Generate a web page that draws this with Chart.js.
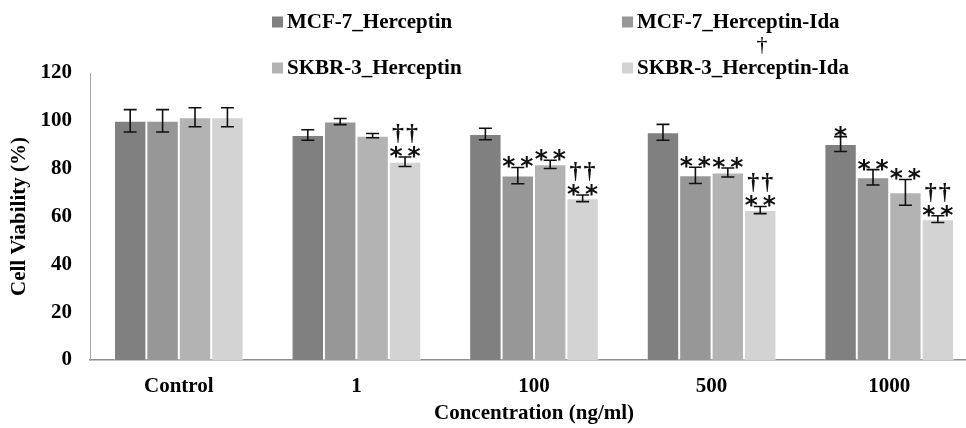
<!DOCTYPE html>
<html>
<head>
<meta charset="utf-8">
<script src="https://cdn.jsdelivr.net/npm/chart.js@4.4.1/dist/chart.umd.min.js"></script>
<style>
  html, body { margin: 0; padding: 0; overflow: hidden; background: #fff; }
  #wrap { width: 980px; height: 428px; }
</style>
</head>
<body>
<div id="wrap"><canvas id="chart"></canvas></div>
<script>
// values
const categories = ['Control', '1', '100', '500', '1000'];
const seriesNames = ['MCF-7_Herceptin', 'MCF-7_Herceptin-Ida', 'SKBR-3_Herceptin', 'SKBR-3_Herceptin-Ida'];
const seriesColors = ['#808080', '#979797', '#b3b3b3', '#d3d3d3'];

const mcfHerceptin = [100, 94.1, 94.5, 95.2, 90.3];
const mcfHerceptinIda = [100, 99.7, 77.1, 77.2, 76.4];
const skbrHerceptin = [101.5, 93.8, 81.8, 78.4, 70.1];
const skbrHerceptinIda = [101.5, 82.9, 67.6, 62.7, 58.9];

const mcfHerceptinErr = [4.7, 2.2, 2.4, 3.3, 3.1];
const mcfHerceptinIdaErr = [4.7, 1.3, 3.4, 3.4, 3.2];
const skbrHerceptinErr = [4.0, 0.9, 1.7, 1.9, 5.4];
const skbrHerceptinIdaErr = [4.0, 2.0, 1.4, 1.5, 1.4];

// significance marks drawn over each bar
const mcfHerceptinStar = ['', '', '', '', '*'];
const mcfHerceptinIdaStar = ['', '', '**', '**', '**'];
const skbrHerceptinStar = ['', '', '**', '**', '**'];
const skbrHerceptinIdaStar = ['', '**', '**', '**', '**'];
const skbrHerceptinIdaDagger = ['', '††', '††', '††', '††'];
const legendStrayMark = '†';

const yTicks = [0, 20, 40, 60, 80, 100, 120];

const values = [mcfHerceptin, mcfHerceptinIda, skbrHerceptin, skbrHerceptinIda];
const errors = [mcfHerceptinErr, mcfHerceptinIdaErr, skbrHerceptinErr, skbrHerceptinIdaErr];
const stars = [mcfHerceptinStar, mcfHerceptinIdaStar, skbrHerceptinStar, skbrHerceptinIdaStar];
const daggers = [[], [], [], skbrHerceptinIdaDagger];

const serif = '"Liberation Serif", "Times New Roman", serif';

let datasets = [];
seriesNames.forEach((name, i) => {
    datasets.push({
        label: name,
        data: values[i],
        backgroundColor: seriesColors[i],
        borderColor: 'rgba(255,255,255,0.45)',
        borderWidth: 1,
        borderSkipped: 'bottom',
        categoryPercentage: 0.73,
        barPercentage: 1.0,
    });
});

// draws each character centred on x, glyph bottoms sitting on yBottom; returns glyph top
function drawSpaced(ctx, text, x, yBottom, gap) {
    let chars = text.split('');
    let start = x - gap * (chars.length - 1) / 2;
    let top = yBottom;
    chars.forEach((ch, k) => {
        let m = ctx.measureText(ch);
        let base = yBottom - m.actualBoundingBoxDescent;
        ctx.fillText(ch, start + k * gap, base);
        top = Math.min(top, base - m.actualBoundingBoxAscent);
    });
    return top;
}

const errorBars = {
    id: 'errorBars',
    afterDatasetsDraw(chart) {
        let ctx = chart.ctx;
        let y = chart.scales.y;
        ctx.save();
        chart.data.datasets.forEach((ds, i) => {
            let meta = chart.getDatasetMeta(i);
            meta.data.forEach((bar, j) => {
                let v = ds.data[j];
                let e = errors[i][j];
                let top = y.getPixelForValue(v + e);
                let bot = y.getPixelForValue(v - e);
                ctx.strokeStyle = '#111';
                ctx.lineWidth = 1.6;
                ctx.beginPath();
                ctx.moveTo(bar.x, top); ctx.lineTo(bar.x, bot);
                ctx.moveTo(bar.x - 6.5, top); ctx.lineTo(bar.x + 6.5, top);
                ctx.moveTo(bar.x - 6.5, bot); ctx.lineTo(bar.x + 6.5, bot);
                ctx.stroke();

                ctx.fillStyle = '#111';
                ctx.textAlign = 'center';
                ctx.textBaseline = 'alphabetic';
                let markTop = top - 1;
                let starText = stars[i][j];
                if (starText) {
                    ctx.font = 'bold 25px "DejaVu Sans", sans-serif';
                    markTop = drawSpaced(ctx, starText, bar.x, top + 1, 18);
                }
                let dag = daggers[i][j];
                if (dag) {
                    ctx.font = 'bold 24px ' + serif;
                    drawSpaced(ctx, dag, bar.x, markTop - 3, 14);
                }
            });
        });
        ctx.restore();
    }
};

const gridLegend = {
    id: 'gridLegend',
    afterDraw(chart) {
        let ctx = chart.ctx;
        let cols = [272, 622];
        let rows = [22, 68];
        ctx.save();
        ctx.font = 'bold 21px ' + serif;
        ctx.textBaseline = 'middle';
        ctx.textAlign = 'left';
        chart.data.datasets.forEach((ds, i) => {
            let cx = cols[i % 2];
            let cy = rows[Math.floor(i / 2)];
            ctx.fillStyle = ds.backgroundColor;
            ctx.fillRect(cx, cy - 5.5, 11, 11);
            ctx.fillStyle = '#000';
            ctx.fillText(ds.label, cx + 15, cy + 1);
        });
        ctx.font = '22px ' + serif;
        ctx.textAlign = 'center';
        ctx.fillText(legendStrayMark, 762, 45);
        ctx.restore();
    }
};

new Chart(document.getElementById('chart'), {
    type: 'bar',
    data: {
        labels: categories,
        datasets
    },
    options: {
        responsive: true,
        maintainAspectRatio: false,
        animation: false,
        layout: { padding: { top: 73, left: 4, right: 2, bottom: 0 } },
        plugins: {
            legend: { display: false },
            tooltip: { enabled: false }
        },
        scales: {
            x: {
                afterFit(axis) { axis.height = 68; },
                grid: { display: false, drawTicks: false },
                border: { color: '#8c8c8c', width: 1.5 },
                ticks: { color: '#000', font: { family: serif, size: 21, weight: 'bold' }, padding: 14 },
                title: {
                    display: true,
                    text: 'Concentration (ng/ml)',
                    color: '#000',
                    font: { family: serif, size: 21, weight: 'bold' },
                    padding: { top: 0, bottom: 2 }
                }
            },
            y: {
                min: 0,
                max: 120,
                afterFit(axis) { axis.width = 86; },
                afterBuildTicks(axis) {
                    axis.ticks = yTicks.map(v => ({ value: v }));
                },
                grid: { display: false, drawTicks: false },
                border: { color: '#a6a6a6', width: 1 },
                ticks: { color: '#000', font: { family: serif, size: 21, weight: 'bold' }, padding: 18 },
                title: {
                    display: true,
                    text: 'Cell Viability (%)',
                    color: '#000',
                    font: { family: serif, size: 21, weight: 'bold' },
                    padding: { top: 3, bottom: 0 }
                }
            }
        }
    },
    plugins: [errorBars, gridLegend]
});
</script>
</body>
</html>
